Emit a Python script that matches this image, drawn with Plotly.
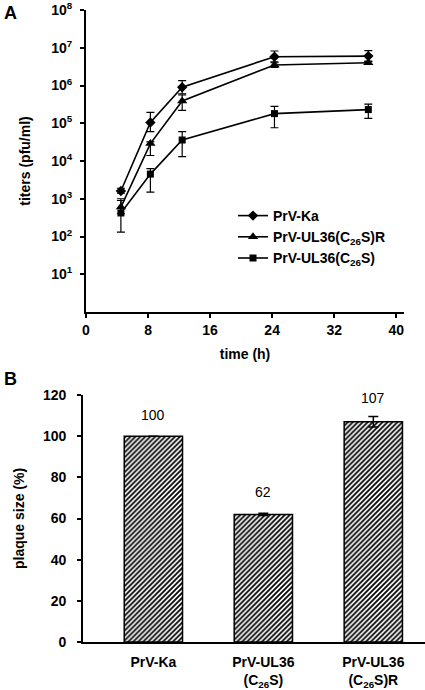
import plotly.graph_objects as go

# Panel A data
time_h = [4.5, 8.3, 12.4, 24.3, 36.4]
ka = [1.6e3, 1.05e5, 9.0e5, 5.8e6, 6.0e6]
ka_hi = [1.9e3, 1.95e5, 1.35e6, 8.2e6, 8.4e6]
ka_lo = [1.4e3, 6.0e4, 6.0e5, 4.2e6, 4.3e6]
r = [6.0e2, 2.9e4, 3.9e5, 3.5e6, 4.0e6]
r_hi = [9.0e2, 3.2e4, 5.6e5, 4.0e6, 4.4e6]
r_lo = [4.0e2, 1.4e4, 2.2e5, 3.0e6, 3.6e6]
c26s = [4.2e2, 4.5e3, 3.6e4, 1.8e5, 2.3e5]
c26s_hi = [1.0e3, 6.3e3, 6.0e4, 2.8e5, 3.2e5]
c26s_lo = [1.3e2, 1.5e3, 1.3e4, 7.6e4, 1.35e5]
series_names = ["PrV-Ka", "PrV-UL36(C<sub>26</sub>S)R", "PrV-UL36(C<sub>26</sub>S)"]
x_ticks = [0, 8, 16, 24, 32, 40]
y_tickvals = [1e1, 1e2, 1e3, 1e4, 1e5, 1e6, 1e7, 1e8]
y_ticktext = ["10<sup>%d</sup>" % i for i in range(1, 9)]

# Panel B data
bar_cats = ["PrV-Ka", "PrV-UL36<br>(C<sub>26</sub>S)", "PrV-UL36<br>(C<sub>26</sub>S)R"]
bar_vals = [100, 62, 107]
bar_err = [0, 0.6, 2.5]
bar_labels = ["100", "62", "107"]

FONT = "Liberation Sans, Arial, sans-serif"
BOLD14 = dict(family=FONT, size=14, color="black", weight="bold")

fig = go.Figure()

def add_series(y, hi, lo, name, symbol, size):
    fig.add_trace(go.Scatter(
        x=time_h, y=y, name=name, mode="lines+markers",
        line=dict(color="black", width=1.6),
        marker=dict(symbol=symbol, size=size, color="black"),
        error_y=dict(type="data", symmetric=False,
                     array=[h - v for h, v in zip(hi, y)],
                     arrayminus=[v - l for v, l in zip(y, lo)],
                     color="black", thickness=1.2, width=4),
        xaxis="x", yaxis="y"))

add_series(ka, ka_hi, ka_lo, series_names[0], "diamond", 8)
add_series(r, r_hi, r_lo, series_names[1], "triangle-up", 9)
add_series(c26s, c26s_hi, c26s_lo, series_names[2], "square", 7)

fig.add_trace(go.Bar(
    x=[0, 1, 2], y=bar_vals, width=0.53, showlegend=False,
    marker=dict(color="white", line=dict(color="black", width=1.5),
                pattern=dict(shape="/", fgcolor="black", bgcolor="white",
                             size=3.5, solidity=0.5, fillmode="replace")),
    error_y=dict(type="data", array=bar_err, color="black", thickness=1.5, width=5),
    xaxis="x2", yaxis="y2"))

label_shift = [11, 12, 14]
for i, (v, t) in enumerate(zip(bar_vals, bar_labels)):
    fig.add_annotation(x=i, y=v, xref="x2", yref="y2", text=t,
                       showarrow=False, yshift=label_shift[i],
                       yanchor="bottom",
                       font=dict(family=FONT, size=14, color="black"))

axis_common = dict(showline=True, linecolor="black", linewidth=1.8,
                   ticks="outside", tickcolor="black", tickwidth=1.5, ticklen=4,
                   showgrid=False, zeroline=False, tickfont=BOLD14, automargin=False)

fig.update_layout(
    width=425, height=690,
    margin=dict(l=0, r=0, t=0, b=0),
    paper_bgcolor="white", plot_bgcolor="white",
    font=dict(family=FONT, color="black"),
    xaxis=dict(domain=[86/425, 404/425], range=[0, 41], tickvals=x_ticks,
               anchor="y",
               title=dict(text="time (h)", standoff=12, font=BOLD14),
               **axis_common),
    yaxis=dict(domain=[1 - 312/690, 1 - 10/690], type="log", range=[0, 8],
               tickvals=y_tickvals, ticktext=y_ticktext, anchor="x",
               ticklabelstandoff=5,
               title=dict(text="titers (pfu/ml)", standoff=17, font=BOLD14),
               **axis_common),
    xaxis2=dict(domain=[83/425, 1.0], range=[-0.64, 2.47], tickvals=[0, 1, 2],
                ticktext=bar_cats, anchor="y2", ticks="",
                showline=True, linecolor="black", linewidth=1.8,
                showgrid=False, zeroline=False, ticklabelstandoff=6,
                tickfont=BOLD14, automargin=False),
    yaxis2=dict(domain=[1 - 642/690, 1 - 395/690], range=[0, 120],
                tickvals=[0, 20, 40, 60, 80, 100, 120], anchor="x2",
                ticklabelstandoff=8,
                title=dict(text="plaque size (%)", standoff=15, font=BOLD14),
                **axis_common),
    legend=dict(x=233/425, y=1 - 200/690, xanchor="left", yanchor="top",
                bgcolor="rgba(0,0,0,0)", tracegroupgap=0,
                font=dict(family=FONT, size=14, color="black", weight="bold")),
)

fig.add_annotation(x=2/425, y=1 - 1/690, xref="paper", yref="paper", text="<b>A</b>",
                   showarrow=False, xanchor="left", yanchor="top",
                   font=dict(family=FONT, size=18, color="black"))
fig.add_annotation(x=2/425, y=1 - 367/690, xref="paper", yref="paper", text="<b>B</b>",
                   showarrow=False, xanchor="left", yanchor="top",
                   font=dict(family=FONT, size=18, color="black"))

fig.write_html("out.html", config={"displayModeBar": False},
               post_script="document.body.style.margin='0';document.body.style.overflow='hidden';")
